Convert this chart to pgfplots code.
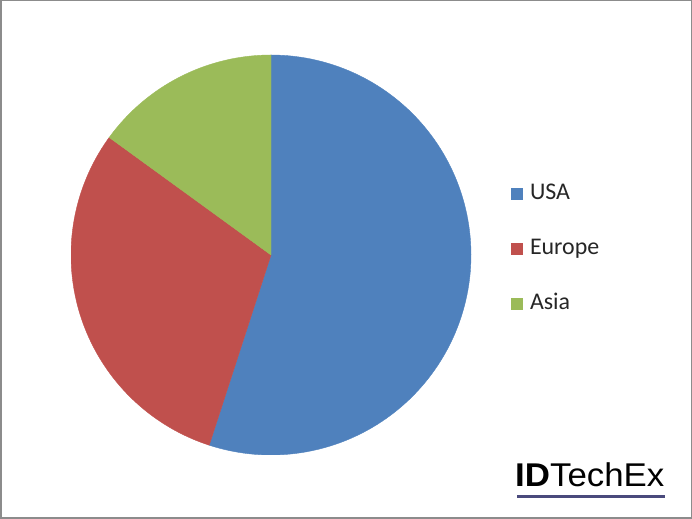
\documentclass[border=0pt]{standalone}
\usepackage{pgfplots}
\pgfplotsset{compat=1.18}
\usepackage{fontspec}
\setmainfont{Carlito}
\newfontfamily\logofont{Liberation Sans}
\definecolor{usa}{HTML}{4F81BD}
\definecolor{eur}{HTML}{C0504D}
\definecolor{asia}{HTML}{9BBB59}
\definecolor{logoline}{HTML}{4A4A7C}
% shares in percent
\def\vUSA{55}
\def\vEUR{30}
\def\vASIA{15}
\pgfmathsetmacro{\aA}{90}
\pgfmathsetmacro{\aB}{90-3.6*\vUSA}
\pgfmathsetmacro{\aC}{\aB-3.6*\vEUR}
\pgfmathsetmacro{\aD}{\aC-3.6*\vASIA}
\begin{document}
\begin{tikzpicture}[x=1bp,y=1bp]
\path[use as bounding box] (0,0) rectangle (692,519);
\draw[gray!90, line width=1.5bp] (0.75,0.75) rectangle (691.25,518.25);
\begin{axis}[
  at={(271bp,264bp)}, anchor=center,
  scale only axis, width=400bp, height=400bp,
  xmin=-1, xmax=1, ymin=-1, ymax=1,
  hide axis,
  legend style={at={(1.1,0.515)}, anchor=west, draw=none, fill=none,
    inner sep=0pt, outer sep=0pt, row sep=37bp,
    font=\fontsize{24}{26}\selectfont, text=black!85,
    nodes={inner sep=0pt, text height=15bp, text depth=3bp}},
  legend cell align=left,
  legend image code/.code={\fill[#1, draw=none] (0bp,-6bp) rectangle (12bp,6bp);\path[draw=none,fill=none] (0bp,0bp) -- (19bp,0bp);},
]
\addplot[fill=usa, draw=usa, line width=0.4bp, data cs=polar, domain=\aA:\aB, samples=120] ({x},{1}) -- (axis cs:0,0) -- cycle;
\addlegendentry{USA}
\addplot[fill=eur, draw=eur, line width=0.4bp, data cs=polar, domain=\aB:\aC, samples=80] ({x},{1}) -- (axis cs:0,0) -- cycle;
\addlegendentry{Europe}
\addplot[fill=asia, draw=asia, line width=0.4bp, data cs=polar, domain=\aC:\aD, samples=50] ({x},{1}) -- (axis cs:0,0) -- cycle;
\addlegendentry{Asia}
\end{axis}
\node[anchor=base west, inner sep=0pt, xscale=1.06, font=\logofont\fontsize{33}{38}\selectfont] at (515,32) {\textbf{ID}TechEx};
\fill[logoline] (517,21) rectangle (665,24);
\end{tikzpicture}
\end{document}
